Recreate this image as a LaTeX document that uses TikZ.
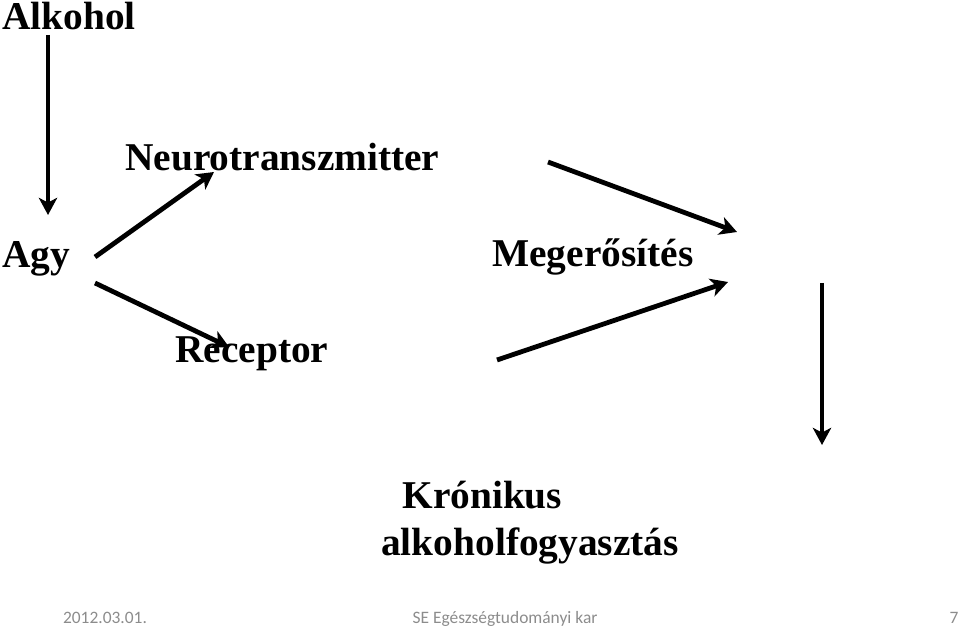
\documentclass[tikz,border=0pt]{standalone}
\usepackage{fontspec}
\setmainfont{Liberation Serif}
\newfontfamily\footfont{Carlito}
\usetikzlibrary{arrows.meta,positioning}
\definecolor{footGray}{HTML}{8C8C8C}
\tikzset{
  term/.style={inner sep=0pt,anchor=base west,font=\fontsize{28}{33}\selectfont\bfseries},
  footlabel/.style={inner sep=0pt,anchor=base,font=\footfont\fontsize{12.4}{15}\selectfont,text=footGray},
  arrow/.style={-{Stealth[length=4.3mm,width=4.6mm,inset=1.2mm]},line width=3.4pt}
}
\begin{document}
\begin{tikzpicture}[x=0.025cm,y=-0.025cm]
  \useasboundingbox (0,0) rectangle (960,628);
  % terms
  \node[term] (alkohol) at (2,30) {Alkohol};
  \node[term] (neuro) at (125,171) {Neurotranszmitter};
  \node[term] (agy) at (2,268) {Agy};
  \node[term] (megerosites) at (492,267) {Megerősítés};
  \node[term] (receptor) at (175,363) {Receptor};
  \node[term,align=left] (kronikus) at (381,555) {\hspace*{15pt}Krónikus\\alkoholfogyasztás};
  % footer
  \node[footlabel] (date) at (105,623) {2012.03.01.};
  \node[footlabel] (org) at (505,623) {SE Egészségtudományi kar};
  \node[footlabel] (page) at (954,623) {7};
  % arrow ends
  \coordinate (alkoholOut) at (48,35);
  \coordinate (agyIn) at (48,215);
  \coordinate (agyUp) at (95,257);
  \coordinate (neuroIn) at (214,172);
  \coordinate (agyDown) at (95,283);
  \coordinate (receptorIn) at (229,347);
  \coordinate (neuroOut) at (548,162);
  \coordinate (megUp) at (737,232);
  \coordinate (receptorOut) at (497,360);
  \coordinate (megDown) at (728,282);
  \coordinate (megOut) at (822,283);
  \coordinate (kronikusIn) at (822,445);
  \draw[arrow] (alkoholOut) -- (agyIn);
  \draw[arrow] (agyUp) -- (neuroIn);
  \draw[arrow] (agyDown) -- (receptorIn);
  \draw[arrow] (neuroOut) -- (megUp);
  \draw[arrow] (receptorOut) -- (megDown);
  \draw[arrow] (megOut) -- (kronikusIn);
\end{tikzpicture}
\end{document}
